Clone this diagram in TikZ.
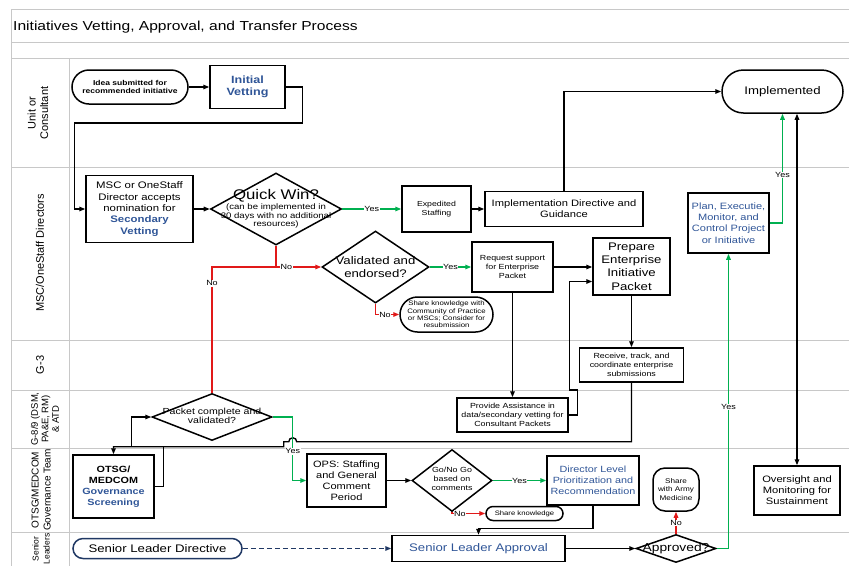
\documentclass[tikz,border=0pt]{standalone}
\usepackage{fontspec}
\setmainfont{Liberation Sans}[FakeStretch=1.2]
\newfontfamily\lanefont{Liberation Sans}
\usetikzlibrary{arrows.meta,shapes.geometric,positioning}
\definecolor{vetblue}{RGB}{47,85,151}
\definecolor{yesgreen}{RGB}{0,176,80}
\definecolor{nored}{RGB}{225,25,25}
\definecolor{navyline}{RGB}{32,56,100}
\definecolor{lanegray}{RGB}{200,200,200}
\newcommand{\fsz}[2]{\fontsize{#1}{#2}\selectfont}

\begin{document}
\begin{tikzpicture}[x=1pt, y=-1pt, >={Triangle[length=6pt,width=4.5pt]},
  box/.style 2 args={draw, line width=1.5pt, align=center, inner sep=1pt,
    minimum width=#1, minimum height=#2},
  term/.style 2 args={box={#1}{#2}, rounded corners=#2*0.5},
  dia/.style 2 args={draw, line width=1.5pt, diamond, inner sep=0pt,
    minimum width=#1, minimum height=#2},
  flow/.style={line width=1.4pt},
  yes/.style={flow, yesgreen},
  no/.style={flow, nored},
  lbl/.style={fill=white, inner sep=0.6pt, text=black, font=\fsz{7.5}{8}},
  laneline/.style={lanegray, line width=0.8pt},
  lane/.style={rotate=90, align=center, font=\lanefont\fsz{11}{12.5}}]

  \useasboundingbox (0,0) rectangle (849,566);
  % swim lanes
  \foreach \y in {9,42,58,167,340,390,448,532} \draw[laneline] (11,\y) -- (849,\y);
  \draw[laneline] (11,9) -- (11,566);
  \draw[laneline] (69,58) -- (69,566);
  \node[anchor=west, inner sep=0pt, font=\fsz{13}{15}] (title) at (13,27) {Initiatives Vetting, Approval, and Transfer Process};
  \node[lane] (ln1) at (38,113) {Unit or\\Consultant};
  \node[lane] (ln2) at (40,253) {MSC/OneStaff Directors};
  \node[lane] (ln3) at (40,365) {G-3};
  \node[lane, font=\lanefont\fsz{9.5}{10.5}] (ln4) at (45,419) {G-8/9 (DSM,\\PA\&E, RM)\\\& ATD};
  \node[lane, font=\lanefont\fsz{10}{12}] (ln5) at (41,490) {OTSG/MEDCOM\\Governance Team};
  \node[lane, font=\lanefont\fsz{8.5}{11}] (ln6) at (41,549) {Senior\\Leaders};

  % unit or consultant
  \node[term={116}{34}, font=\bfseries\fsz{7.1}{8.5}] (idea) at (130,87) {Idea submitted for\\recommended initiative};
  \node[box={75}{43}, font=\bfseries\fsz{10.5}{12.5}, text=vetblue] (iv) at (247.5,87) {Initial\\Vetting};
  \node[term={121}{43}, font=\fsz{11}{13}] (impl) at (782.5,91.5) {Implemented};

  % msc / onestaff directors
  \node[box={107}{67}, font=\fsz{9.5}{11.3}] (msc) at (139.5,209) {MSC or OneStaff\\Director accepts\\nomination for\\\textcolor{vetblue}{\bfseries Secondary}\\\textcolor{vetblue}{\bfseries Vetting}};
  \node[dia={131}{72}] (qw) at (276,209) {};
  \node[font=\fsz{14}{15}] (qwt) at (276,196) {Quick Win?};
  \node[align=center, font=\fsz{8}{8.5}] (qwn) at (276,216) {(can be implemented in\\30 days with no additional\\resources)};
  \node[box={69}{46}, font=\fsz{7.3}{9}] (exp) at (436.5,209) {Expedited\\Staffing};
  \node[box={158}{35}, font=\fsz{9.3}{11}] (idg) at (564,209) {Implementation Directive and\\Guidance};
  \node[dia={107}{72}] (val) at (375.5,267) {};
  \node[align=center, font=\fsz{11}{13}] (valt) at (375.5,267) {Validated and\\endorsed?};
  \node[box={81}{50}, font=\fsz{7.4}{9}] (req) at (512.5,267) {Request support\\for Enterprise\\Packet};
  \node[term={93}{35}, font=\fsz{6.5}{7.4}] (shk1) at (446.5,314.5) {Share knowledge with\\Community of Practice\\or MSCs; Consider for\\resubmission};
  \node[box={77}{57}, font=\fsz{11}{13.3}] (prep) at (631.5,266.5) {Prepare\\Enterprise\\Initiative\\Packet};
  \node[box={81}{60}, font=\fsz{9.2}{11.3}, text=vetblue] (plan) at (728.5,223) {Plan, Executie,\\Monitor, and\\Control Project\\or Initiative};

  % g-3 and g-8/9
  \node[box={104}{34}, font=\fsz{7.4}{8.7}] (rcv) at (631.5,365) {Receive, track, and\\coordinate enterprise\\submissions};
  \node[box={111}{34}, font=\fsz{7.4}{9}] (prov) at (512.5,415) {Provide Assistance in\\data/secondary vetting for\\Consultant Packets};
  \node[dia={120}{47}] (pk) at (212,417) {};
  \node[align=center, font=\fsz{8.8}{8.5}] (pkt) at (212,416) {Packet complete and\\validated?};

  % otsg / medcom governance
  \node[box={81}{63}, font=\bfseries\fsz{9}{11}] (otsg) at (113.5,486.5) {OTSG/\\MEDCOM\\\textcolor{vetblue}{Governance}\\\textcolor{vetblue}{Screening}};
  \node[box={79}{53}, font=\fsz{9.2}{11.1}] (ops) at (346.5,480.5) {OPS: Staffing\\and General\\Comment\\Period};
  \node[dia={80}{62}] (gng) at (452,480.5) {};
  \node[align=center, font=\fsz{7.4}{8.8}] (gngt) at (452,479) {Go/No Go\\based on\\comments};
  \node[box={92}{49}, font=\fsz{9}{11}, text=vetblue] (dir) at (593,480.5) {Director Level\\Prioritization and\\Recommendation};
  \node[term={77}{14}, font=\fsz{6.4}{7}] (shk2) at (524.5,513.5) {Share knowledge};
  \node[box={46}{43}, rounded corners=12, font=\fsz{6.8}{8.8}] (army) at (676,489.5) {Share\\with Army\\Medicine};
  \node[box={86}{49}, font=\fsz{9.3}{11}] (ovs) at (797,490.5) {Oversight and\\Monitoring for\\Sustainment};

  % senior leaders
  \node[term={169}{20}, draw=navyline, font=\fsz{11}{13}] (sld) at (157.5,548.5) {Senior Leader Directive};
  \node[box={173}{26}, font=\fsz{11}{13}, text=vetblue] (sla) at (478.5,548.5) {Senior Leader Approval};
  \node[dia={80}{28}] (appr) at (676,548.5) {};
  \node[font=\fsz{11.5}{13}] (apprt) at (676,548.5) {Approved?};

  % connectors
  \draw[flow,->] (idea) -- (iv);
  \draw[flow,->] (iv.east) -- ++(17,0) -- ++(0,36) -| ([xshift=-11pt]msc.west) -- (msc.west);
  \draw[flow,->] (msc) -- (qw);
  \draw[yes,->] (qw) -- node[lbl] (y1) {Yes} (exp);
  \draw[flow,->] (exp) -- (idg);
  \draw[flow,->] (idg.north) |- (impl.west);
  \draw[no] (qw.south) -- (qw.south |- val.west);
  \draw[no,->] (pk.north) -- node[lbl, pos=0.87] (n1) {No} (pk.north |- val.west) -- node[lbl, pos=0.68] (n2) {No} (val.west);
  \draw[yes,->] (val) -- node[lbl] (y2) {Yes} (req);
  \draw[no,->] (val.south) |- node[lbl, pos=0.7] (n3) {No} (shk1.west);
  \draw[flow,->] (req.east) -- (req.east -| prep.west);
  \draw[flow,->] (req) -- (prov);
  \draw[flow,->] (prov.east) -- ++(9,0) -- ++(0,-25) -- ++(-8,0) |- ([yshift=-15pt]prep.west);
  \draw[flow,->] (prep) -- (rcv);
  % back to governance screening, hopping the yes line
  \coordinate (yx) at ([xshift=20pt]pk.east);
  \coordinate (hop) at ([xshift=24pt]pk.east);
  \draw[flow,->] (rcv.south) -- ++(0,59) coordinate (bus) -- (hop |- bus) arc[start angle=0, end angle=180, radius=4pt] -- ++(-5,0) -- ++(0,5) -| (otsg.north);
  \draw[flow] (otsg.east) -- ++(9,0) -- ++(0,-41);
  \draw[flow,->] ([xshift=-20pt]pk.west) ++(0,29) |- (pk.west);
  \draw[yes,->] (pk.east) -- (yx) |- node[lbl, pos=0.27] (y3) {Yes} (ops.west);
  \draw[flow,->] (ops) -- (gng);
  \draw[yes,->] (gng) -- node[lbl] (y4) {Yes} (dir);
  \draw[no,->] (gng.south) |- node[lbl, pos=0.62] (n4) {No} (shk2.west);
  \draw[flow,->] (dir.south) -- ++(0,23) -| (sla.north);
  \draw[flow, navyline, dash pattern=on 5pt off 3pt, ->] (sld) -- (sla);
  \draw[flow,->] (sla) -- (appr);
  \draw[no,->] (appr.north) -- node[lbl] (n5) {No} (army.south);
  \draw[yes,->] (appr.east) -| node[lbl, pos=0.74] (y5) {Yes} (plan.south);
  \draw[yes,->] (plan.east) -| node[lbl, pos=0.72] (y6) {Yes} (impl.south);
  \draw[flow,<->] (impl.south -| ovs.north) -- (ovs.north);
\end{tikzpicture}
\end{document}
